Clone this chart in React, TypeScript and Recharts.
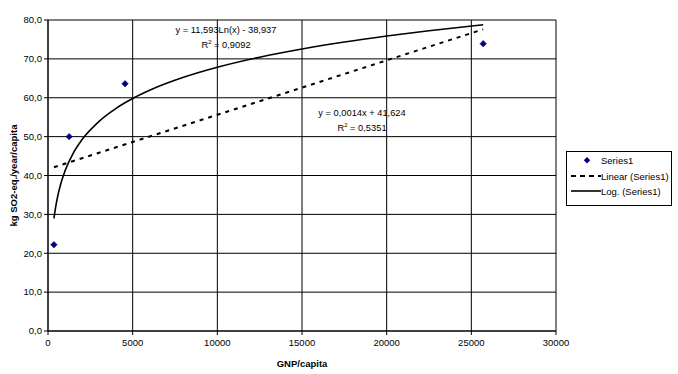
import React from 'react';
import { ComposedChart, XAxis, YAxis, CartesianGrid, Scatter, Line } from 'recharts';

// Observed data points (GNP/capita, kg SO2-eq./year/capita)
const gnpValues = [350, 1250, 4550, 25700];
const so2Values = [22.2, 50.0, 63.6, 73.9];

// Logarithmic trend line
const logX = [350, 500, 750, 1000, 1500, 2000, 3000, 4000, 5000, 6000, 8000, 10000, 12500, 15000, 17500, 20000, 22500, 25700];
const logY = [28.97, 33.11, 37.81, 41.14, 45.85, 49.18, 53.88, 57.22, 59.8, 61.92, 65.25, 67.84, 70.43, 72.54, 74.33, 75.87, 77.24, 78.78];

// Linear trend line end points
const linX = [350, 25700];
const linY = [42.11, 77.6];

const xTicks = [0, 5000, 10000, 15000, 20000, 25000, 30000];
const yTicks = [0, 10, 20, 30, 40, 50, 60, 70, 80];

const legendLabels = ['Series1', 'Linear (Series1)', 'Log. (Series1)'];
const logEquation = ['y = 11,593Ln(x) - 38,937', '0,9092'];
const linEquation = ['y = 0,0014x + 41,624', '0,5351'];

const points = gnpValues.map((x, i) => ({ x, y: so2Values[i] }));
const logData = logX.map((x, i) => ({ x, y: logY[i] }));
const linData = linX.map((x, i) => ({ x, y: linY[i] }));

const FONT = '"Liberation Sans", Arial, sans-serif';

const Diamond = (props: any) => {
  const { cx, cy } = props;
  if (cx == null || cy == null) return null;
  const s = 3.2;
  return <polygon points={`${cx},${cy - s} ${cx + s},${cy} ${cx},${cy + s} ${cx - s},${cy}`} fill="#000080" stroke="#000080" strokeWidth={0.6} />;
};

const YLabel = (props: any) => {
  const vb = props.viewBox || {};
  const cx = (vb.x ?? 0) + 13;
  const cy = (vb.y ?? 0) + (vb.height ?? 0) / 2;
  return (
    <text x={cx} y={cy} transform={`rotate(-90 ${cx} ${cy})`} textAnchor="middle" dominantBaseline="central"
      fontFamily={FONT} fontSize={9.5} fontWeight="bold" fill="#000">
      kg SO2-eq./year/capita
    </text>
  );
};

const XLabel = (props: any) => {
  const vb = props.viewBox || {};
  const cx = (vb.x ?? 0) + (vb.width ?? 0) / 2;
  const cy = (vb.y ?? 0) + 32;
  return (
    <text x={cx} y={cy} textAnchor="middle" dominantBaseline="central"
      fontFamily={FONT} fontSize={9.5} fontWeight="bold" fill="#000">
      GNP/capita
    </text>
  );
};

const fmtY = (v: number) => v.toFixed(1).replace('.', ',');

export default function App() {
  const textStyle: React.CSSProperties = {
    position: 'absolute', fontFamily: FONT, fontSize: 9.3, color: '#000',
    whiteSpace: 'nowrap', transform: 'translate(-50%, -50%)', lineHeight: 1,
  };
  return (
    <div style={{ position: 'absolute', left: 0, top: 0, width: 678, height: 374, background: '#fff' }}>
      <ComposedChart width={678} height={374} margin={{ top: 20, right: 122, bottom: 0, left: 0 }}>
        <CartesianGrid stroke="#000" strokeWidth={1} />
        <XAxis
          type="number" dataKey="x" domain={[0, 30000]} ticks={xTicks} interval={0}
          height={43} tickSize={4} tickMargin={4}
          axisLine={{ stroke: '#000' }} tickLine={{ stroke: '#000' }}
          tick={{ fill: '#000', fontSize: 9.5, fontFamily: FONT }}
          label={<XLabel />}
          allowDataOverflow
        />
        <YAxis
          type="number" dataKey="y" domain={[0, 80]} ticks={yTicks} interval={0}
          width={48} tickSize={4} tickMargin={2} tickFormatter={fmtY}
          axisLine={{ stroke: '#000' }} tickLine={{ stroke: '#000' }}
          tick={{ fill: '#000', fontSize: 9.5, fontFamily: FONT }}
          label={<YLabel />}
          allowDataOverflow
        />
        <Line data={linData} dataKey="y" type="linear" stroke="#000" strokeWidth={2} strokeDasharray="4 5"
          dot={false} activeDot={false} isAnimationActive={false} legendType="none" />
        <Line data={logData} dataKey="y" type="monotone" stroke="#000" strokeWidth={1.6}
          dot={false} activeDot={false} isAnimationActive={false} legendType="none" />
        <Scatter data={points} dataKey="y" shape={<Diamond />} isAnimationActive={false} />
      </ComposedChart>

      <div style={{ ...textStyle, left: 226, top: 31 }}>{logEquation[0]}</div>
      <div style={{ ...textStyle, left: 226, top: 45 }}>R<sup style={{ fontSize: 6 }}>2</sup> = {logEquation[1]}</div>
      <div style={{ ...textStyle, left: 362, top: 114 }}>{linEquation[0]}</div>
      <div style={{ ...textStyle, left: 362, top: 128 }}>R<sup style={{ fontSize: 6 }}>2</sup> = {linEquation[1]}</div>

      <svg style={{ position: 'absolute', left: 0, top: 0 }} width={678} height={374}>
        <rect x={566.5} y={151.5} width={105} height={54} fill="#fff" stroke="#000" strokeWidth={1} />
        <polygon points="587,157 590.2,160.2 587,163.4 583.8,160.2" fill="#000080" />
        <line x1={571} y1={176} x2={601} y2={176} stroke="#000" strokeWidth={2} strokeDasharray="5 4" />
        <line x1={571} y1={191} x2={601} y2={191} stroke="#000" strokeWidth={1.6} />
        {legendLabels.map((t, i) => (
          <text key={t} x={601} y={160.5 + i * 15.5} dominantBaseline="central" fontFamily={FONT} fontSize={9.5} fill="#000">{t}</text>
        ))}
      </svg>
    </div>
  );
}
